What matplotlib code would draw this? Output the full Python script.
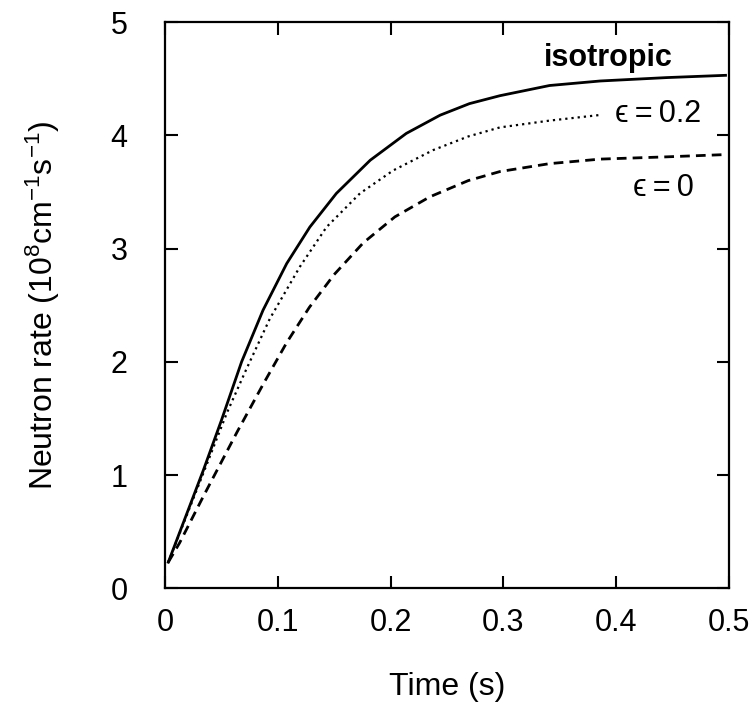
import matplotlib
matplotlib.use('Agg')
import matplotlib.pyplot as plt

plt.rcParams['font.family'] = ['Liberation Sans', 'DejaVu Sans']
plt.rcParams['mathtext.fontset'] = 'custom'
plt.rcParams['mathtext.rm'] = 'Liberation Sans'
plt.rcParams['mathtext.it'] = 'Liberation Sans:italic'

# isotropic (solid)
t_iso = [0.003, 0.034, 0.050, 0.068, 0.087, 0.108, 0.1285, 0.152, 0.182, 0.214,
         0.244, 0.270, 0.297, 0.341, 0.386, 0.445, 0.497]
n_iso = [0.23, 1.04, 1.48, 2.00, 2.456, 2.868, 3.19, 3.487, 3.78, 4.017,
         4.178, 4.28, 4.35, 4.44, 4.48, 4.51, 4.53]

# eps = 0.2 (dotted)
t_e02 = [0.003, 0.035, 0.055, 0.072, 0.093, 0.1197, 0.1433, 0.1729, 0.2024, 0.2379,
         0.2689, 0.297, 0.341, 0.386]
n_e02 = [0.23, 1.04, 1.55, 1.93, 2.38, 2.84, 3.19, 3.487, 3.69, 3.87,
         3.99, 4.07, 4.13, 4.18]

# eps = 0 (dashed)
t_e0 = [0.003, 0.013, 0.034, 0.064, 0.087, 0.108, 0.128, 0.150, 0.1758, 0.2039,
        0.2349, 0.2689, 0.297, 0.341, 0.386, 0.445, 0.497]
n_e0 = [0.23, 0.40, 0.81, 1.38, 1.80, 2.17, 2.48, 2.77, 3.05, 3.28,
        3.457, 3.60, 3.68, 3.75, 3.79, 3.81, 3.83]

fig = plt.figure(figsize=(7.53, 7.13), dpi=100)
ax = fig.add_axes([0.219, 0.175, 0.749, 0.794])

ax.plot(t_iso, n_iso, color='black', lw=2.0, linestyle='-', solid_joinstyle='round')
ax.plot(t_e02, n_e02, color='black', lw=1.6, linestyle=(0, (1, 1.8)))
ax.plot(t_e0, n_e0, color='black', lw=2.0, linestyle=(0, (3.5, 2.2)))

eps_fam = ['Liberation Sans', 'DejaVu Serif']
ax.text(0.336, 4.61, 'isotropic', fontsize=22, fontweight='bold', va='baseline', ha='left')
ax.text(0.399, 4.12, 'ϵ\u2009=\u20090.2', fontsize=22, va='baseline', ha='left', family=eps_fam)
ax.text(0.415, 3.46, 'ϵ\u2009=\u20090', fontsize=22, va='baseline', ha='left', family=eps_fam)

ax.set_xlim(0, 0.5)
ax.set_ylim(0, 5)
ax.set_xticks([0, 0.1, 0.2, 0.3, 0.4, 0.5])
ax.set_xticklabels(['0', '0.1', '0.2', '0.3', '0.4', '0.5'])
ax.set_yticks([0, 1, 2, 3, 4, 5])

ax.tick_params(direction='in', length=9, width=1.5, top=True, right=True, labelsize=22)
ax.tick_params(axis='x', pad=14)
ax.tick_params(axis='y', pad=27)
for s in ax.spines.values():
    s.set_linewidth(1.6)

ax.set_xlabel('Time (s)', fontsize=23)
ax.set_ylabel('Neutron rate (10$^8$cm$^{-1}$s$^{-1}$)', fontsize=23)
ax.xaxis.set_label_coords(0.5, -0.148)
ax.yaxis.set_label_coords(-0.183, 0.5)

fig.savefig('out.png', dpi=100)
